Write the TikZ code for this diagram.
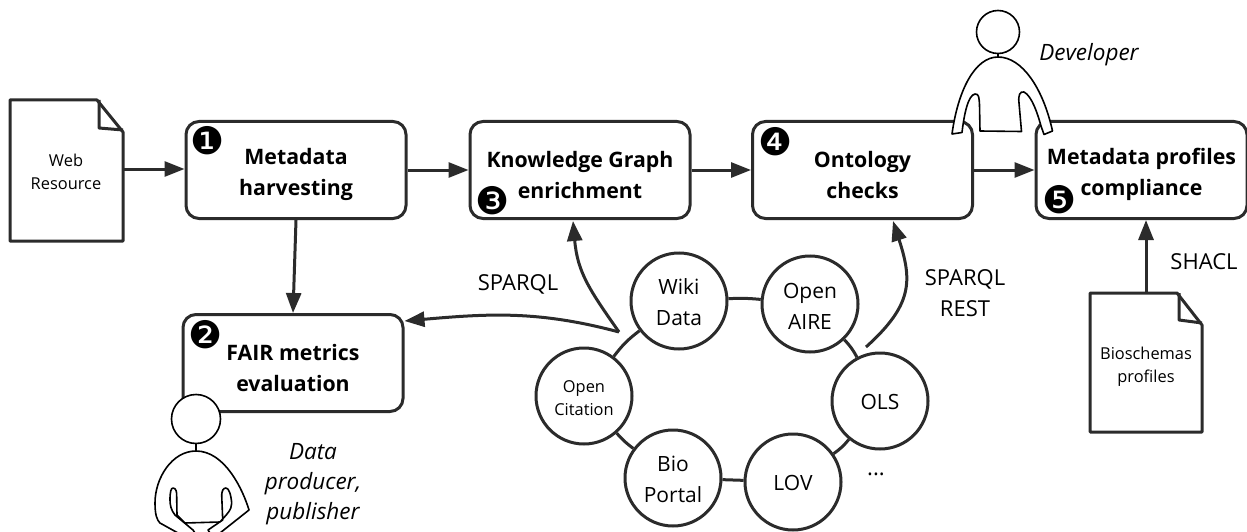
\documentclass[tikz,border=0pt]{standalone}
\usepackage{fontspec}
\setmainfont{Open Sans}
\newfontfamily\numfont{DejaVu Sans}
\usetikzlibrary{arrows.meta}
\usetikzlibrary{positioning}
\definecolor{ink}{HTML}{2B2B2B}
\begin{document}
\begin{tikzpicture}[x=1pt,y=-1pt,>={Triangle[length=20pt,width=15pt]},
    step box/.style={draw=ink,line width=3pt,rounded corners=13pt,minimum width=220pt,minimum height=97pt,align=center,font=\fontsize{21.3}{31}\selectfont\bfseries,inner sep=0pt,execute at begin node=\rule{0pt}{57pt}},
    source node/.style={circle,draw=ink,line width=3pt,minimum size=96pt,align=center,inner sep=0pt,font=\fontsize{21}{31}\selectfont},
    doc node/.style={align=center,inner sep=0pt,font=\fontsize{16.4}{23}\selectfont},
    num node/.style={inner sep=0pt,font=\fontsize{38}{38}\selectfont\numfont},
    plain label/.style={inner sep=0pt,align=center,font=\fontsize{22}{31.5}\selectfont},
    who label/.style={inner sep=0pt,align=center,font=\fontsize{22.5}{30}\selectfont\itshape},
    arrow line/.style={->,draw=ink,line width=3pt},
    ring line/.style={draw=ink,line width=3pt},
    doc shape/.style={draw=ink,line width=3pt,line join=round},
    person/.style={draw=black,line width=1.6pt,fill=white,line join=round}]
  \useasboundingbox (0,0) rectangle (1247,532);
  % boxes
  \node[step box] (harvest) at (296,170) {Metadata\\harvesting};
  \node[step box] (fair) at (293,363) {FAIR metrics\\evaluation};
  \node[step box] (enrich) at (580,170) {Knowledge Graph\\enrichment};
  \node[step box] (onto) at (862.5,170) {Ontology\\checks};
  \node[step box,minimum width=211pt] (comply) at (1141.5,170) {Metadata profiles\\compliance};
  \node[num node] (n1) at (208,141) {❶};
  \node[num node] (n2) at (206,335) {❷};
  \node[num node] (n3) at (493,201) {❸};
  \node[num node] (n4) at (776,142) {❹};
  \node[num node] (n5) at (1060,200) {❺};
  % documents
  \coordinate (webdoc) at (123,169);
  \draw[doc shape] (10,100) -- (97,100) -- (123,132) -- (123,241) -- (10,241) -- cycle;
  \draw[doc shape] (99,100) -- (99,128) -- (123,130);
  \node[doc node] (web) at (66,172) {Web\\Resource};
  \coordinate (bioschemadoc) at (1146,293);
  \draw[doc shape] (1090,293) -- (1177,293) -- (1202,325) -- (1202,432) -- (1090,432) -- cycle;
  \draw[doc shape] (1179,293) -- (1179,320) -- (1202,323);
  \node[doc node] (bio) at (1146,367) {Bioschemas\\profiles};
  % sources
  \node[source node,execute at begin node=\rule{0pt}{50pt}] (wiki) at (679,301) {Wiki\\Data};
  \node[source node,execute at begin node=\rule{0pt}{50pt}] (aire) at (810,304) {Open\\AIRE};
  \node[source node,execute at begin node=\rule{0pt}{17pt}] (ols) at (880,401) {OLS};
  \node[source node,execute at begin node=\rule{0pt}{17pt}] (lov) at (793,482) {LOV};
  \node[source node,execute at begin node=\rule{0pt}{50pt}] (portal) at (673,478) {Bio\\Portal};
  \node[source node,font=\fontsize{16.4}{23}\selectfont,execute at begin node=\rule{0pt}{39pt}] (cite) at (584,396) {Open\\Citation};
  \path[ring line] (wiki) edge[bend left=4] (aire);
  \path[ring line] (aire) edge[bend left=8] (ols);
  \path[ring line] (ols) edge[bend left=8] (lov);
  \path[ring line] (lov) edge (portal);
  \path[ring line] (portal) edge[bend left=6] (cite);
  \path[ring line] (cite) edge[bend left=8] (wiki);
  \coordinate (ringleft) at (619,332);
  \coordinate (ringright) at (866,347);
  % connectors
  \draw[arrow line] (webdoc) -- (harvest.west |- webdoc);
  \draw[arrow line] (harvest) -- (enrich);
  \draw[arrow line] (enrich) -- (onto);
  \draw[arrow line] (onto) -- (comply);
  \draw[arrow line] (harvest.south) -- (fair.north);
  \draw[arrow line] (bioschemadoc) -- (comply.south -| bioschemadoc);
  \draw[arrow line] (ringleft) to[out=165,in=5] (fair.east |- 0,321);
  \draw[arrow line] (ringleft) to[out=125,in=-85,looseness=1.1] (573,221);
  \draw[arrow line] (ringright) to[out=42,in=-72,looseness=1.25] (893,221);
  % labels
  \node[plain label] (sparqla) at (518,284) {SPARQL};
  \node[plain label] (sparqlb) at (965,293) {SPARQL\\REST};
  \node[plain label] (shacl) at (1204,262) {SHACL};
  \node[plain label] (dots) at (876,474) {...};
  \node[who label] (dev) at (1089,55) {Developer};
  \node[who label] (producer) at (313,484) {Data\\producer,\\publisher};
  % developer
  \draw[person] (998,32) circle (21.5);
  \draw[person] (998,53) -- (998,57);
  \draw[person] (998,57) .. controls (975,57) and (958,90) .. (952,134) -- (962,132.5)
    .. controls (964,115) and (968,95) .. (975,94) .. controls (979,94) and (979,97) .. (979.5,105)
    -- (980,131) -- (1021.5,131.5) -- (1019,103) .. controls (1018,95) and (1020,91) .. (1024,92)
    .. controls (1032,96) and (1038,115) .. (1041,126) -- (1044,134.5) -- (1052.5,131)
    .. controls (1043,88) and (1022,57) .. (998,57) -- cycle;
  % producer
  \draw[person] (196,419) circle (24.5);
  \draw[person] (196,443.5) -- (196,451);
  \draw[person] (196,451) .. controls (172,451) and (155,478) .. (155,503)
    .. controls (155,515) and (157,520) .. (160,523) -- (178,533) -- (195,533) -- (193,530) -- (175,515)
    .. controls (171,510) and (170,505) .. (170,500) .. controls (170,492) and (171,488) .. (173,488)
    .. controls (176,488) and (177,492) .. (176.7,497) -- (177,515) -- (185,523) -- (220,522)
    .. controls (226,515) and (232,510) .. (231.7,503) .. controls (231,495) and (229,488) .. (226,488)
    .. controls (223,488) and (222,491) .. (221.7,495) -- (222.7,520) -- (208,530) -- (210,533) -- (220,533)
    -- (249,510) .. controls (243,490) and (225,451) .. (196,451) -- cycle;
\end{tikzpicture}
\end{document}
